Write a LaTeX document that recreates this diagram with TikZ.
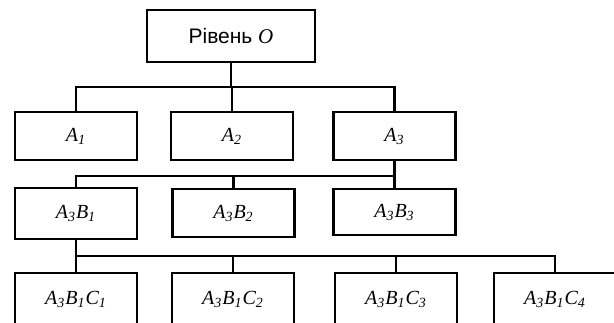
\documentclass[tikz,border=0pt]{standalone}
\usepackage{fontspec}
\setmainfont{Liberation Serif}
\newfontfamily\arialfont{Liberation Sans}
\usetikzlibrary{positioning}

\tikzset{
    box/.style={draw, line width=1.2pt, minimum width=61pt, minimum height=24pt, inner sep=0pt, font=\fontsize{10}{12}\selectfont\itshape},
    wire/.style={line width=1.3pt}
}

\begin{document}
\begin{tikzpicture}[x=0.5pt, y=-0.5pt]
    % frame of the picture
    \useasboundingbox (0,0) rectangle (614,322);
    \clip (0,0) rectangle (614,322);
    % level O
    \node[box, minimum width=84pt, minimum height=26pt, font=\fontsize{10.5}{12}\arialfont] (top) at (231,36) {Рівень \textit{\rmfamily O}};
    % level A
    \node[box] (a1) at (76,136) {A\textsubscript{1}};
    \node[box] (a2) at (232,136) {A\textsubscript{2}};
    \node[box] (a3) at (394.5,136) {A\textsubscript{3}};
    % level B
    \node[box, minimum height=25.5pt] (b1) at (76,213.5) {A\textsubscript{3}B\textsubscript{1}};
    \node[box] (b2) at (233.5,213) {A\textsubscript{3}B\textsubscript{2}};
    \node[box, minimum height=23pt] (b3) at (394.5,212) {A\textsubscript{3}B\textsubscript{3}};
    % level C
    \node[box, minimum height=26pt] (c1) at (76,299) {A\textsubscript{3}B\textsubscript{1}C\textsubscript{1}};
    \node[box, minimum height=26pt] (c2) at (233,299) {A\textsubscript{3}B\textsubscript{1}C\textsubscript{2}};
    \node[box, minimum height=26pt] (c3) at (396,299) {A\textsubscript{3}B\textsubscript{1}C\textsubscript{3}};
    \node[box, minimum height=26pt] (c4) at (555,299) {A\textsubscript{3}B\textsubscript{1}C\textsubscript{4}};
    % bus points
    \coordinate (busa) at (231,87);
    \coordinate (busb) at (394.5,176);
    \coordinate (busc) at (76,256);
    % draw the edges
    \draw[wire] (top.south) -- (busa);
    \draw[wire] (a1.north) |- (busa) -| (a3.north);
    \draw[wire] (a2.north) -- (a2.north |- busa);
    \draw[wire] (a3.south) -- (busb);
    \draw[wire] (b1.north) |- (busb) -- (b3.north);
    \draw[wire] (b2.north) -- (b2.north |- busb);
    \draw[wire] (b1.south) -- (busc);
    \draw[wire] (c1.north) |- (busc) -| (c4.north);
    \draw[wire] (c2.north) -- (c2.north |- busc);
    \draw[wire] (c3.north) -- (c3.north |- busc);
\end{tikzpicture}
\end{document}
